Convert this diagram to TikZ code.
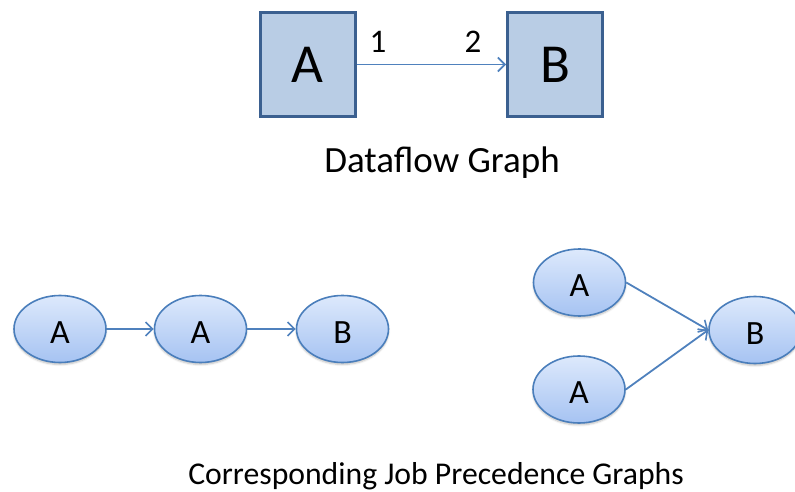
\documentclass[tikz,border=0pt]{standalone}
\usepackage{fontspec}
\setmainfont{Carlito}
\usetikzlibrary{arrows.meta,shapes.geometric,shadows.blur}
\definecolor{boxfill}{HTML}{B9CDE5}
\definecolor{boxline}{HTML}{3B6090}
\definecolor{edge}{HTML}{4F81BD}
\definecolor{jobtop}{HTML}{DDE9FC}
\definecolor{jobbot}{HTML}{A6C3F2}
\definecolor{jobline}{HTML}{4A7EBB}
\tikzset{
  actor/.style={draw=boxline, fill=boxfill, line width=3pt, minimum width=95pt,
    minimum height=104pt, inner sep=0pt},
  actorlabel/.style={font=\fontsize{55}{55}\selectfont, inner sep=0pt, anchor=base},
  job/.style={ellipse, draw=jobline, line width=1.6pt, top color=jobtop, bottom color=jobbot,
    minimum width=92pt, minimum height=67pt, inner sep=0pt,
    blur shadow={shadow xshift=0pt, shadow yshift=-2pt, shadow blur steps=5, shadow opacity=25}},
  joblabel/.style={font=\fontsize{34}{34}\selectfont, inner sep=0pt, anchor=base},
  flow/.style={draw=edge, line width=1.8pt, -{Straight Barb[length=7pt,width=14pt,line width=1.6pt]}},
  caption/.style={inner sep=0pt, anchor=base},
  tok/.style={font=\fontsize{33}{33}\selectfont, inner sep=0pt, anchor=base}
}
\begin{document}
\begin{tikzpicture}[x=1pt,y=-1pt]
  \useasboundingbox (0,0) rectangle (795,492);
  % dataflow graph
  \node[actor] (a) at (307.5,64.5) {};
  \node[actor] (b) at (555,64.5) {};
  \node[actorlabel] (al) at (307.5,83) {A};
  \node[actorlabel] (bl) at (555,83) {B};
  \draw[flow] (a.east) -- (b.west);
  \node[tok] (t1) at (378,53) {1};
  \node[tok] (t2) at (473,53) {2};
  \node[caption, font=\fontsize{37}{37}\selectfont] (cap1) at (442,172) {Dataflow Graph};
  % chain of jobs
  \node[job] (j1) at (60,329) {};
  \node[job] (j2) at (200.5,329) {};
  \node[job] (j3) at (342.5,329) {};
  \node[joblabel] (j1l) at (60,343) {A};
  \node[joblabel] (j2l) at (200.5,343) {A};
  \node[joblabel] (j3l) at (342.5,343) {B};
  \draw[flow] (j1.east) -- (j2.west);
  \draw[flow] (j2.east) -- (j3.west);
  % two jobs joining
  \node[job] (k1) at (579.5,282.5) {};
  \node[job] (k2) at (579,389.5) {};
  \node[job] (k3) at (755,330) {};
  \node[joblabel] (k1l) at (579.5,296.5) {A};
  \node[joblabel] (k2l) at (579,403.5) {A};
  \node[joblabel] (k3l) at (755,344) {B};
  \draw[flow] (k1.east) -- (k3.west);
  \draw[flow] (k2.east) -- (k3.west);
  \node[caption, font=\fontsize{31.7}{31.7}\selectfont] (cap2) at (436,484) {Corresponding Job Precedence Graphs};
\end{tikzpicture}
\end{document}
